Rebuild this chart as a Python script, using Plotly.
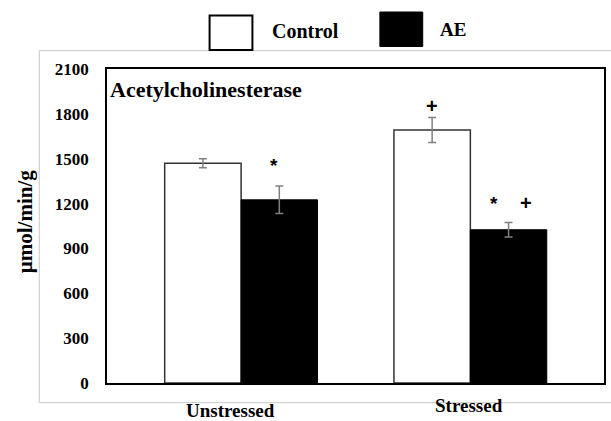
import plotly.graph_objects as go

categories = ["Unstressed", "Stressed"]
control_values = [1470, 1692]
control_errors = [30, 83]
ae_values = [1225, 1025]
ae_errors = [92, 48]
y_ticks = [0, 300, 600, 900, 1200, 1500, 1800, 2100]

W, H = 611, 421
L, R, T, B = 107, 5, 69, 38

centers = list(range(len(categories)))
ctrl_x = [c - 1/6 for c in centers]
ae_x = [c + 1/6 for c in centers]

serif = "Liberation Serif, Times New Roman, serif"
sans = "Liberation Sans, Arial, sans-serif"

fig = go.Figure()
fig.add_trace(go.Bar(
    x=ctrl_x, y=control_values, width=1/3, name="Control",
    marker=dict(color="white", line=dict(color="#333333", width=1.5)),
    error_y=dict(type="data", array=control_errors, color="#808080", thickness=1.5, width=4),
    showlegend=False,
))
fig.add_trace(go.Bar(
    x=ae_x, y=ae_values, width=1/3, name="AE",
    marker=dict(color="black", line=dict(color="black", width=1)),
    error_y=dict(type="data", array=ae_errors, color="#808080", thickness=1.5, width=4),
    showlegend=False,
))

pw = W - L - R
ph = H - T - B
def px(xp):
    return (xp - L) / pw
def py(yp):
    return (H - B - yp) / ph

shapes = [
    dict(type="rect", xref="paper", yref="paper", x0=px(39), x1=px(620), y0=py(402.7), y1=py(50.7),
         line=dict(color="#c8c8c8", width=1), fillcolor="rgba(0,0,0,0)", layer="below"),
    dict(type="rect", xref="paper", yref="paper", x0=px(210), x1=px(253), y0=py(50), y1=py(15.5),
         line=dict(color="black", width=2), fillcolor="white"),
    dict(type="rect", xref="paper", yref="paper", x0=px(381), x1=px(424), y0=py(46.5), y1=py(12),
         line=dict(color="black", width=1), fillcolor="black"),
]

annotations = [
    dict(text="<b>Control</b>", xref="paper", yref="paper", x=px(306), y=py(31), showarrow=False,
         font=dict(family=serif, size=20, color="black"), xanchor="center", yanchor="middle"),
    dict(text="<b>AE</b>", xref="paper", yref="paper", x=px(454), y=py(30), showarrow=False,
         font=dict(family=serif, size=19, color="black"), xanchor="center", yanchor="middle"),
    dict(text="<b>Acetylcholinesterase</b>", xref="paper", yref="paper", x=px(108), y=py(89), showarrow=False,
         font=dict(family=serif, size=22, color="black"), xanchor="left", yanchor="middle"),
    dict(text="<b>µmol/min/g</b>", xref="paper", yref="paper", x=px(25), y=py(221), showarrow=False,
         textangle=-90, font=dict(family=serif, size=21, color="black"), xanchor="center", yanchor="middle"),
    dict(text="<b>" + categories[0] + "</b>", xref="x", yref="paper", x=centers[0] - 0.047, y=py(410),
         showarrow=False, font=dict(family=serif, size=19, color="black"), xanchor="center", yanchor="middle"),
    dict(text="<b>" + categories[1] + "</b>", xref="x", yref="paper", x=centers[1] - 0.005, y=py(405),
         showarrow=False, font=dict(family=serif, size=19, color="black"), xanchor="center", yanchor="middle"),
    dict(text="<b>*</b>", x=ae_x[0] - 0.022, y=ae_values[0] + ae_errors[0] + 135, showarrow=False,
         font=dict(family=sans, size=19, color="black"), yanchor="middle"),
    dict(text="<b>+</b>", x=ctrl_x[1], y=control_values[1] + control_errors[1] + 75, showarrow=False,
         font=dict(family=sans, size=20, color="black"), yanchor="middle"),
    dict(text="<b>*</b>", x=ae_x[1] - 0.062, y=ae_values[1] + ae_errors[1] + 130, showarrow=False,
         font=dict(family=sans, size=19, color="black"), yanchor="middle"),
    dict(text="<b>+</b>", x=ae_x[1] + 0.075, y=ae_values[1] + ae_errors[1] + 130, showarrow=False,
         font=dict(family=sans, size=20, color="black"), yanchor="middle"),
]

fig.update_layout(
    width=W, height=H,
    margin=dict(l=L, r=R, t=T, b=B, pad=0),
    paper_bgcolor="white", plot_bgcolor="white",
    barmode="overlay",
    shapes=shapes, annotations=annotations,
    xaxis=dict(range=[-0.585, 1.583], showticklabels=False, showgrid=False, zeroline=False,
               showline=True, linecolor="black", linewidth=1.5, mirror=True, ticks=""),
    yaxis=dict(range=[0, 2100], tickvals=y_ticks, ticktext=["<b>%d</b>" % v for v in y_ticks],
               showgrid=False, zeroline=False, showline=True, linecolor="black", linewidth=1.5,
               mirror=True, ticks="", ticklabelstandoff=13,
               tickfont=dict(family=serif, size=17, color="black")),
)

fig.write_html("out.html")
